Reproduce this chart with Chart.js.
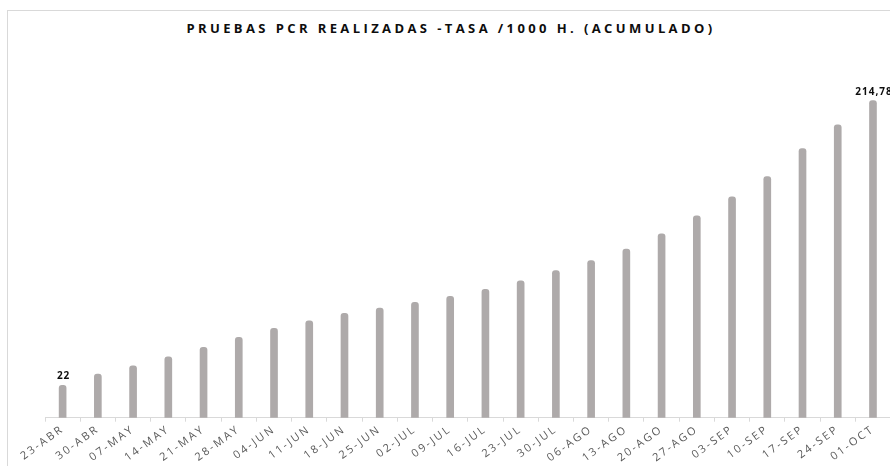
<!DOCTYPE html>
<html>
<head>
<meta charset="utf-8">
<script src="https://cdn.jsdelivr.net/npm/chart.js@4"></script>
<style>
  html, body { margin: 0; padding: 0; background: #fff; overflow: hidden; width: 890px; height: 466px; }
  #frame {
    position: absolute; left: 7px; top: 10px;
    width: 900px; height: 470px;
    border: 1px solid #d9d9d9;
  }
  #title {
    position: absolute; left: 0; top: 8px; width: 886px;
    text-align: center;
    font: bold 13px "Open Sans", sans-serif;
    letter-spacing: 3.4px;
    color: #0d0d0d;
  }
  canvas { position: absolute; left: 0; top: 0; }
</style>
</head>
<body>
<div id="frame">
  <div id="title">PRUEBAS PCR REALIZADAS -TASA /1000 H. (ACUMULADO)</div>
  <canvas id="pcrChart" width="900" height="460"></canvas>
</div>
<script>
const weeks = ['23-ABR', '30-ABR', '07-MAY', '14-MAY', '21-MAY', '28-MAY', '04-JUN', '11-JUN',
  '18-JUN', '25-JUN', '02-JUL', '09-JUL', '16-JUL', '23-JUL', '30-JUL', '06-AGO',
  '13-AGO', '20-AGO', '27-AGO', '03-SEP', '10-SEP', '17-SEP', '24-SEP', '01-OCT'];
const tasa = [22, 29.6, 35.2, 41.3, 47.7, 54.5, 60.6, 65.7,
  70.7, 74.3, 78.2, 82.2, 87.0, 92.8, 99.6, 106.4,
  114.3, 124.5, 136.7, 149.7, 163.3, 182.3, 198.5, 214.78];
// only the first and last bar carry a value label
const labeled = [0, 23];

const barLabels = {
  id: 'barLabels',
  beforeDraw(chart) {
    chart.ctx.letterSpacing = '2.2px';
  },
  afterDatasetsDraw(chart) {
    const ctx = chart.ctx;
    const meta = chart.getDatasetMeta(0);
    ctx.save();
    ctx.letterSpacing = '1px';
    ctx.font = 'bold 10px "Open Sans", sans-serif';
    ctx.fillStyle = '#0d0d0d';
    ctx.textAlign = 'center';
    ctx.textBaseline = 'alphabetic';
    labeled.forEach(i => {
      const bar = meta.data[i];
      const txt = String(tasa[i]).replace('.', ',');
      ctx.fillText(txt, bar.x + 1, bar.y - 6);
    });
    ctx.restore();
  }
};

new Chart(document.getElementById('pcrChart').getContext('2d'), {
  type: 'bar',
  data: {
    labels: weeks,
    datasets: [{
      data: tasa,
      backgroundColor: '#aeaaaa',
      barThickness: 7,
      borderRadius: { topLeft: 3, topRight: 3 },
      borderSkipped: 'bottom'
    }]
  },
  options: {
    responsive: false,
    animation: false,
    layout: { padding: { left: 37, right: 17.4, top: 37.7, bottom: 3.3 } },
    plugins: {
      legend: { display: false },
      title: { display: false },
      tooltip: { enabled: false }
    },
    scales: {
      x: {
        grid: { display: true, drawOnChartArea: false, tickLength: 4, color: '#d9d9d9' },
        border: { color: '#d9d9d9' },
        ticks: {
          minRotation: 36, maxRotation: 36, autoSkip: false, padding: 1,
          color: '#595959',
          font: { size: 11, family: '"Open Sans", sans-serif' }
        },
        afterFit: s => { s.height = 50; }
      },
      y: { display: false, min: 0, max: 250 }
    }
  },
  plugins: [barLabels]
});
</script>
</body>
</html>
